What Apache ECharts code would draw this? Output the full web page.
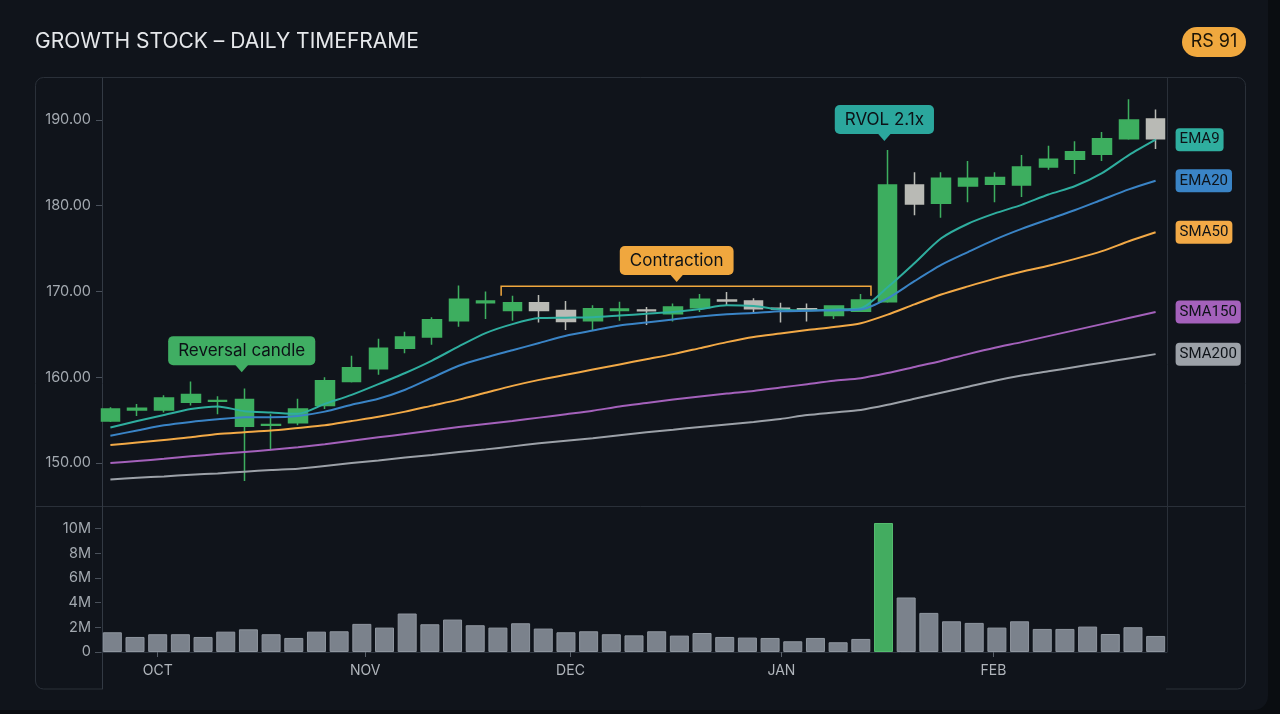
<!DOCTYPE html>
<html>
<head>
<meta charset="utf-8">
<script src="https://cdn.jsdelivr.net/npm/echarts@6/dist/echarts.min.js"></script>
<style>
html, body { margin: 0; padding: 0; background: #0a0d11; }
#chart { width: 1280px; height: 714px; }
</style>
</head>
<body>
<div id="chart"></div>
<script>
// daily candles, oldest first
var openP  = [154.9, 156.2, 156.2, 157.1, 157.2, 154.3, 154.4, 154.7, 156.7, 159.5, 161.0, 163.4, 164.7, 166.6, 168.7, 167.8, 168.7, 167.8, 166.6, 167.8, 167.85, 167.4, 168.1, 169.0, 168.9, 168.05, 168.0, 167.2, 167.7, 168.8, 182.4, 180.3, 182.3, 182.5, 182.4, 184.5, 185.4, 186.0, 187.8, 190.1];
var closeP = [156.3, 156.4, 157.6, 158.0, 157.3, 157.4, 154.5, 156.3, 159.6, 161.1, 163.4, 164.7, 166.7, 169.1, 168.9, 168.7, 167.8, 166.5, 168.0, 167.95, 167.75, 168.2, 169.1, 168.9, 168.0, 167.95, 167.9, 168.3, 169.0, 182.4, 180.2, 183.2, 183.2, 183.3, 184.5, 185.4, 186.3, 187.8, 190.0, 187.8];
var lowP   = [154.8, 155.5, 155.9, 156.7, 155.7, 147.9, 151.5, 154.4, 156.3, 159.4, 160.3, 162.8, 163.8, 165.9, 166.8, 166.6, 166.4, 165.5, 165.5, 166.6, 166.1, 166.5, 167.6, 168.4, 167.4, 166.4, 166.5, 166.8, 167.6, 168.7, 178.9, 178.6, 180.4, 180.4, 181.0, 184.2, 183.7, 185.2, 187.7, 186.6];
var highP  = [156.5, 156.9, 157.9, 159.5, 157.8, 158.7, 155.7, 157.5, 160.0, 162.5, 164.5, 165.3, 167.0, 170.7, 170.0, 169.5, 169.6, 168.9, 168.4, 168.8, 168.2, 168.6, 169.7, 169.95, 169.2, 168.7, 168.6, 168.4, 169.7, 186.5, 183.9, 183.9, 185.2, 183.9, 185.9, 187.0, 187.5, 188.6, 192.4, 191.2];

var ema9   = [154.15, 154.9, 155.6, 156.3, 156.6, 156.05, 155.9, 155.75, 156.9, 157.95, 159.2, 160.5, 161.95, 163.6, 165.15, 166.2, 166.9, 166.95, 167.0, 167.2, 167.4, 167.6, 167.95, 168.4, 168.3, 167.9, 167.8, 167.9, 168.05, 170.5, 173.3, 176.2, 177.9, 179.1, 180.1, 181.3, 182.3, 183.8, 185.9, 187.7];
var ema20  = [153.2, 153.8, 154.4, 154.8, 155.1, 155.35, 155.35, 155.5, 156.0, 156.8, 157.5, 158.55, 159.95, 161.35, 162.3, 163.15, 164.0, 164.85, 165.45, 166.05, 166.4, 166.75, 167.1, 167.35, 167.5, 167.7, 167.75, 167.8, 167.9, 169.2, 171.2, 173.1, 174.6, 176.05, 177.3, 178.4, 179.5, 180.7, 181.9, 182.9];
var sma50  = [152.1, 152.4, 152.7, 153.0, 153.4, 153.6, 153.8, 154.1, 154.4, 154.9, 155.4, 156.0, 156.7, 157.4, 158.2, 159.0, 159.7, 160.3, 160.9, 161.5, 162.1, 162.7, 163.4, 164.1, 164.7, 165.1, 165.5, 165.85, 166.3, 167.3, 168.5, 169.65, 170.6, 171.5, 172.3, 173.0, 173.8, 174.7, 175.85, 176.9];
var sma150 = [150.0, 150.25, 150.5, 150.8, 151.05, 151.3, 151.55, 151.85, 152.2, 152.6, 153.0, 153.4, 153.8, 154.2, 154.55, 154.9, 155.3, 155.7, 156.1, 156.6, 157.0, 157.4, 157.75, 158.1, 158.4, 158.8, 159.2, 159.6, 159.9, 160.5, 161.2, 161.9, 162.7, 163.45, 164.1, 164.8, 165.5, 166.2, 166.9, 167.6];
var sma200 = [148.1, 148.3, 148.45, 148.65, 148.8, 149.0, 149.2, 149.35, 149.65, 150.0, 150.3, 150.65, 150.95, 151.3, 151.6, 151.95, 152.3, 152.6, 152.9, 153.25, 153.6, 153.9, 154.2, 154.5, 154.8, 155.15, 155.6, 155.9, 156.2, 156.8, 157.5, 158.2, 158.9, 159.6, 160.2, 160.7, 161.2, 161.7, 162.2, 162.7];

// volume in millions (its own, longer run of days)
var volumeM = [1.60, 1.22, 1.44, 1.44, 1.22, 1.65, 1.84, 1.44, 1.14, 1.65, 1.68, 2.28, 1.98, 3.12, 2.25, 2.63, 2.17, 1.98, 2.33, 1.90, 1.60, 1.68, 1.44, 1.35, 1.68, 1.33, 1.54, 1.22, 1.17, 1.14, 0.87, 1.14, 0.79, 1.06, 10.46, 4.42, 3.17, 2.49, 2.36, 1.98, 2.49, 1.87, 1.87, 2.06, 1.46, 2.01, 1.30];
var spikeBar = 34;

var priceTicks = [150, 160, 170, 180, 190];
var volumeTicks = [0, 2, 4, 6, 8, 10];
var monthNames = ['OCT', 'NOV', 'DEC', 'JAN', 'FEB'];
var monthPos = [2.5, 11.65, 20.7, 30.0, 39.35];

var maNames  = ['EMA9', 'EMA20', 'SMA50', 'SMA150', 'SMA200'];
var maColors = ['#2fae9f', '#3a84c6', '#f2a946', '#a461bb', '#9ca1a8'];

var noteText  = ['Reversal candle', 'Contraction', 'RVOL 2.1x'];
var noteDay   = [5, 21, 29];
var notePrice = [160.6, 171.1, 187.55];
var noteNudge = [-0.1, 0.13, -0.12];
var noteColor = ['#40ae63', '#f0a73e', '#2ba79d'];
var rangeFrom = 15, rangeTo = 28, rangeTop = 170.6, rangeFoot = 169.5;

var priceDays = openP.map(function(el, idx) { return 'd' + idx; });
var volumeDays = volumeM.map(function(el, idx) { return 'v' + idx; });
var candles = openP.map(function(el, idx) {
  return [openP[idx], closeP[idx], lowP[idx], highP[idx]];
});

var bg = '#10141b';
var frame = '#2a3039';

function drawNote(params, api) {
  var i = params.dataIndex;
  var p = api.coord([api.value(0), api.value(1)]);
  var x = p[0] + noteNudge[i] * api.size([1, 0])[0];
  var y = p[1];
  return {
    type: 'group',
    children: [
      { type: 'polygon', shape: { points: [[x - 7, y - 8], [x + 7, y - 8], [x, y]] }, style: { fill: noteColor[i] } },
      { type: 'text', x: x, y: y - 7, style: {
          text: noteText[i], fill: '#0c1116', font: '17px Inter',
          textAlign: 'center', textVerticalAlign: 'bottom', align: 'center', verticalAlign: 'bottom',
          backgroundColor: noteColor[i], padding: [5, 10, 5, 10], lineHeight: 19, borderRadius: 5 } }
    ]
  };
}

function drawRange(params, api) {
  var w = api.size([1, 0])[0];
  var a = api.coord([rangeFrom, rangeTop]);
  var b = api.coord([rangeTo, rangeTop]);
  var foot = api.coord([rangeFrom, rangeFoot])[1];
  var x1 = a[0] - 0.42 * w, x2 = b[0] + 0.38 * w;
  return {
    type: 'polyline',
    shape: { points: [[x1, foot], [x1, a[1]], [x2, a[1]], [x2, foot]] },
    style: { stroke: '#f0a73e', lineWidth: 1.5, fill: null }
  };
}

var maSeries = [ema9, ema20, sma50, sma150, sma200].map(function(arr, idx) {
  return {
    name: maNames[idx], type: 'line', xAxisIndex: 0, yAxisIndex: 0,
    data: arr, smooth: 0.25, showSymbol: false, z: 3,
    lineStyle: { color: maColors[idx], width: 2 },
    endLabel: {
      show: true, formatter: '{a}', distance: 20,
      color: '#0e1318', backgroundColor: maColors[idx],
      fontSize: 15, fontFamily: 'Roboto', lineHeight: 17,
      padding: [3, 4, 3, 4], borderRadius: 4
    }
  };
});

var chart = echarts.init(document.getElementById('chart'));
var option = {
  animation: false,
  backgroundColor: '#0a0d11',
  textStyle: { fontFamily: 'Inter' },
  graphic: [
    { type: 'rect', z: -10, shape: { x: -20, y: -20, width: 1288, height: 730, r: 14 }, style: { fill: bg } },
    { type: 'rect', z: -9, shape: { x: 35.5, y: 77.5, width: 1210, height: 611.5, r: 8 }, style: { fill: 'none', stroke: frame, lineWidth: 1 } },
    { type: 'rect', z: -8, shape: { x: 103, y: 686, width: 1063, height: 6 }, style: { fill: bg } },
    { type: 'line', z: -7, shape: { x1: 35.5, y1: 506.5, x2: 1245.5, y2: 506.5 }, style: { stroke: frame, lineWidth: 1 } },
    { type: 'line', z: -7, shape: { x1: 102.5, y1: 77.5, x2: 102.5, y2: 689 }, style: { stroke: '#333a44', lineWidth: 1 } },
    { type: 'line', z: -7, shape: { x1: 1167.5, y1: 77.5, x2: 1167.5, y2: 652 }, style: { stroke: frame, lineWidth: 1 } },
    { type: 'text', style: { text: 'GROWTH STOCK \u2013 DAILY TIMEFRAME', x: 35, y: 42, font: '21px Inter', fill: '#e6e8eb', textVerticalAlign: 'middle', verticalAlign: 'middle' } },
    { type: 'rect', shape: { x: 1182, y: 27, width: 64, height: 30, r: 15 }, style: { fill: '#f0a83e' } },
    { type: 'text', style: { text: 'RS 91', x: 1214, y: 42, font: '18px Inter', fill: '#1b1406', textAlign: 'center', align: 'center', textVerticalAlign: 'middle', verticalAlign: 'middle' } }
  ],
  grid: [
    { left: 97, top: 77, width: 1072, height: 429 },
    { left: 101, top: 504, width: 1066, height: 148 }
  ],
  xAxis: [
    { type: 'category', gridIndex: 0, data: priceDays, show: false },
    { type: 'category', gridIndex: 1, data: volumeDays,
      axisLine: { lineStyle: { color: '#2f3640' } }, axisTick: { show: false }, axisLabel: { show: false } },
    { type: 'value', gridIndex: 1, min: 0, max: 47, position: 'bottom',
      axisLine: { show: false }, splitLine: { show: false },
      axisTick: { show: true, customValues: monthPos, length: 5, lineStyle: { color: '#59606a' } },
      axisLabel: { customValues: monthPos, color: '#b0b5bb', fontSize: 14, margin: 12,
        formatter: function(v) { return monthNames[monthPos.indexOf(v)] || ''; } } }
  ],
  yAxis: [
    { type: 'value', gridIndex: 0, min: 145, max: 195, offset: -5,
      axisLine: { show: false }, splitLine: { show: false },
      axisTick: { show: true, customValues: priceTicks, length: 6, lineStyle: { color: '#4a515b' } },
      axisLabel: { customValues: priceTicks, color: '#a3a9b0', fontSize: 14.5, margin: 11,
        formatter: function(v) { return v.toFixed(2); } } },
    { type: 'value', gridIndex: 1, min: 0, max: 12,
      axisLine: { show: false }, splitLine: { show: false },
      axisTick: { show: true, customValues: volumeTicks, length: 6, lineStyle: { color: '#4a515b' } },
      axisLabel: { customValues: volumeTicks, color: '#a3a9b0', fontSize: 14.5, margin: 10,
        formatter: function(v) { return v ? v + 'M' : '0'; } } }
  ],
  series: [
    { name: 'Price', type: 'candlestick', xAxisIndex: 0, yAxisIndex: 0, data: candles, barWidth: 19, z: 2,
      itemStyle: { color: '#3dae5f', borderColor: '#3dae5f', color0: '#b9bab5', borderColor0: '#b9bab5', borderWidth: 1.5 } }
  ].concat(maSeries).concat([
    { name: 'Range', type: 'custom', xAxisIndex: 0, yAxisIndex: 0, z: 5, renderItem: drawRange,
      data: [[rangeFrom, rangeTop]] },
    { name: 'Notes', type: 'custom', xAxisIndex: 0, yAxisIndex: 0, z: 6, renderItem: drawNote,
      data: noteDay.map(function(d, idx) { return [d, notePrice[idx]]; }) },
    { name: 'Volume', type: 'bar', xAxisIndex: 1, yAxisIndex: 1, barWidth: 19,
      data: volumeM.map(function(v, idx) {
        if (idx === spikeBar) return { value: v, itemStyle: { color: '#43ac60', borderColor: '#55bd70' } };
        return v;
      }),
      itemStyle: { color: '#7b828c', borderColor: '#8f969f', borderWidth: 1 } }
  ])
};
chart.setOption(option);
</script>
</body>
</html>
